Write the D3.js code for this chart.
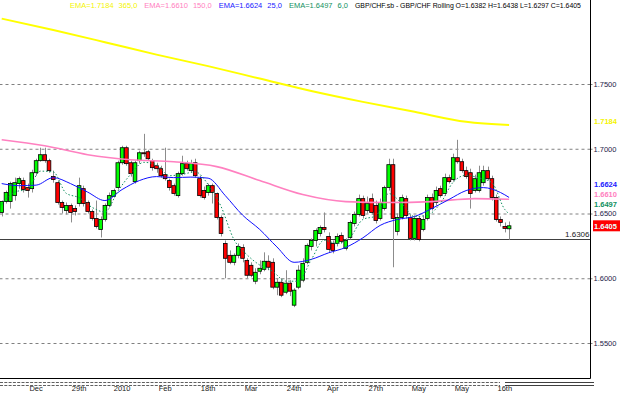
<!DOCTYPE html>
<html>
<head>
<meta charset="utf-8">
<script src="https://cdnjs.cloudflare.com/ajax/libs/d3/7.8.5/d3.min.js"></script>
<style>
  body { margin: 0; background: #fff; }
  svg { display: block; font-family: "Liberation Sans", Arial, sans-serif; }
</style>
</head>
<body>
<svg id="chart" width="625" height="393"></svg>
<script>
// daily GBP/CHF bars
const barOpen = [
  1.6508,1.6592,1.6592,1.6638,1.6731,1.6754,1.6700,1.6692,1.6815,1.6908,
  1.6954,1.6908,1.6785,1.6738,1.6585,1.6523,1.6562,1.6538,1.6577,1.6692,
  1.6585,1.6515,1.6462,1.6377,1.6454,1.6562,1.6631,1.6700,1.6892,1.7008,
  1.6892,1.6746,1.6908,1.6969,1.6977,1.6908,1.6869,1.6846,1.6800,1.6754,
  1.6715,1.6638,1.6808,1.6885,1.6831,1.6892,1.6769,1.6677,1.6662,1.6715,
  1.6654,1.6469,1.6269,1.6177,1.6123,1.6177,1.6238,1.6138,1.6100,1.5977,
  1.6054,1.6069,1.6131,1.6123,1.5931,1.5969,1.5892,1.5962,1.5792,1.5931,
  1.5985,1.6123,1.6246,1.6292,1.6346,1.6392,1.6323,1.6269,1.6269,1.6331,
  1.6231,1.6315,1.6423,1.6492,1.6615,1.6523,1.6615,1.6562,1.6462,1.6538,
  1.6700,1.6877,1.6362,1.6469,1.6615,1.6469,1.6308,1.6462,1.6377,1.6462,
  1.6623,1.6585,1.6692,1.6654,1.6777,1.6762,1.6931,1.6900,1.6831,1.6815,
  1.6677,1.6677,1.6738,1.6831,1.6769,1.6623,1.6454,1.6400,1.6382
];
const barHigh = [
  1.6600,1.6677,1.6746,1.6777,1.6785,1.6777,1.6731,1.6838,1.6923,1.7008,
  1.7008,1.6923,1.6831,1.6754,1.6600,1.6585,1.6577,1.6562,1.6777,1.6715,
  1.6600,1.6531,1.6600,1.6477,1.6577,1.6662,1.6692,1.6908,1.7023,1.7023,
  1.6908,1.6908,1.6985,1.7115,1.6992,1.6923,1.6892,1.6869,1.7008,1.6769,
  1.6731,1.6823,1.6946,1.6908,1.6915,1.6923,1.6792,1.6708,1.6731,1.6731,
  1.6662,1.6485,1.6292,1.6215,1.6192,1.6269,1.6262,1.6154,1.6123,1.6077,
  1.6138,1.6200,1.6177,1.6154,1.6000,1.6000,1.6062,1.5985,1.5923,1.6100,
  1.6154,1.6269,1.6308,1.6385,1.6408,1.6508,1.6354,1.6292,1.6346,1.6354,
  1.6308,1.6446,1.6515,1.6646,1.6638,1.6631,1.6654,1.6600,1.6615,1.6715,
  1.6923,1.6923,1.6500,1.6646,1.6638,1.6492,1.6485,1.6477,1.6485,1.6646,
  1.6654,1.6708,1.6715,1.6808,1.6800,1.6962,1.7069,1.6923,1.6862,1.6846,
  1.6800,1.6869,1.6869,1.6862,1.6792,1.6646,1.6477,1.6431,1.6438
];
const barLow = [
  1.6477,1.6577,1.6538,1.6600,1.6692,1.6662,1.6623,1.6662,1.6792,1.6900,
  1.6892,1.6815,1.6738,1.6569,1.6500,1.6492,1.6431,1.6485,1.6554,1.6554,
  1.6500,1.6446,1.6385,1.6315,1.6438,1.6546,1.6623,1.6685,1.6877,1.6869,
  1.6785,1.6731,1.6885,1.6938,1.6908,1.6831,1.6815,1.6777,1.6754,1.6677,
  1.6638,1.6623,1.6792,1.6831,1.6815,1.6777,1.6623,1.6608,1.6638,1.6577,
  1.6454,1.6323,1.6000,1.6108,1.6100,1.6154,1.6123,1.6000,1.6008,1.5954,
  1.6031,1.6054,1.6062,1.5915,1.5869,1.5854,1.5877,1.5862,1.5777,1.5915,
  1.5969,1.6108,1.6215,1.6246,1.6323,1.6354,1.6200,1.6192,1.6246,1.6269,
  1.6215,1.6300,1.6400,1.6477,1.6462,1.6500,1.6492,1.6423,1.6446,1.6523,
  1.6677,1.6085,1.6331,1.6454,1.6462,1.6292,1.6292,1.6285,1.6362,1.6446,
  1.6523,1.6562,1.6623,1.6638,1.6731,1.6746,1.6885,1.6815,1.6769,1.6538,
  1.6662,1.6662,1.6715,1.6754,1.6600,1.6438,1.6400,1.6354,1.6297
];
const barClose = [
  1.6592,1.6662,1.6731,1.6738,1.6769,1.6685,1.6677,1.6815,1.6908,1.6954,
  1.6908,1.6831,1.6762,1.6585,1.6546,1.6562,1.6508,1.6515,1.6715,1.6577,
  1.6515,1.6462,1.6400,1.6454,1.6562,1.6638,1.6677,1.6892,1.7008,1.6885,
  1.6808,1.6892,1.6969,1.6962,1.6923,1.6854,1.6846,1.6792,1.6769,1.6700,
  1.6654,1.6808,1.6885,1.6846,1.6885,1.6792,1.6638,1.6623,1.6715,1.6662,
  1.6469,1.6346,1.6154,1.6123,1.6177,1.6246,1.6154,1.6023,1.6023,1.6046,
  1.6077,1.6131,1.6085,1.5931,1.5969,1.5869,1.5962,1.5900,1.5908,1.6062,
  1.6115,1.6254,1.6292,1.6369,1.6392,1.6377,1.6223,1.6215,1.6323,1.6285,
  1.6292,1.6431,1.6492,1.6615,1.6485,1.6577,1.6508,1.6446,1.6585,1.6700,
  1.6877,1.6462,1.6469,1.6623,1.6485,1.6308,1.6462,1.6300,1.6454,1.6623,
  1.6538,1.6677,1.6638,1.6777,1.6746,1.6931,1.6900,1.6831,1.6785,1.6654,
  1.6769,1.6815,1.6831,1.6769,1.6623,1.6454,1.6431,1.6385,1.6405
];

// moving averages, sampled at bar indices
const ema365Idx = [0, 12, 24, 36, 48, 60, 72, 84, 96, 108, 118];
const ema365 = [1.8005,1.7917,1.7823,1.7727,1.7638,1.7542,1.7446,1.7362,1.7285,1.7208,1.7184];
const ema150Idx = [0, 10, 20, 30, 40, 50, 60, 70, 80, 90, 100, 110, 118];
const ema150 = [1.7069,1.7023,1.6954,1.6915,1.6900,1.6862,1.6754,1.6646,1.6592,1.6585,1.6592,1.6615,1.6610];
const ema25Idx = [0,4,8,12,16,20,24,28,32,36,40,44,48,52,56,60,64,68,72,76,80,84,88,92,96,100,104,108,112,116,118];
const ema25 = [1.6731,1.6715,1.6719,1.6777,1.6731,1.6665,1.6600,1.6685,1.6754,1.6785,
  1.6777,1.6781,1.6773,1.6638,1.6488,1.6377,1.6242,1.6123,1.6146,1.6196,
  1.6238,1.6312,1.6408,1.6454,1.6477,1.6538,1.6608,1.6677,1.6700,1.6662,1.6624];
const ema6Idx = [0,3,6,9,12,15,18,21,24,27,30,33,36,39,42,45,48,51,54,57,60,63,66,69,72,75,78,81,84,87,90,93,96,99,102,105,108,111,114,117,118];
const ema6 = [1.6570,1.6665,1.6688,1.6827,1.6821,1.6656,1.6622,1.6548,1.6511,1.6672,
  1.6803,1.6895,1.6877,1.6792,1.6802,1.6822,1.6724,1.6555,1.6300,1.6183,
  1.6102,1.6054,1.5978,1.5977,1.6144,1.6294,1.6268,1.6316,1.6454,1.6481,
  1.6654,1.6579,1.6476,1.6488,1.6577,1.6742,1.6795,1.6775,1.6738,1.6531,1.6497];

const gridTicks = [1.55, 1.60, 1.65, 1.70, 1.75];
const supportLevel = 1.6306;
const dateIdx = [8, 18, 28, 38, 48, 58, 68, 77, 87, 97, 107, 117];
const dateLabels = ["Dec", "29th", "2010", "Feb", "18th", "Mar", "24th", "Apr", "27th", "May", "May", "16th"];

const svg = d3.select("#chart");
const plotRight = 590.5, plotBottom = 378.5;
const fmt = d3.format(".4f");

const y = d3.scaleLinear().domain([1.55, 1.75]).range([343, 84]);
const x = d3.scaleBand()
  .domain(d3.range(barClose.length))
  .range([-0.45, 511.25])
  .paddingInner(0.15)
  .paddingOuter(0.075);
const cx = i => x(i) + x.bandwidth() / 2;

svg.append("defs").append("clipPath").attr("id", "plotClip")
  .append("rect").attr("x", 0).attr("y", 0).attr("width", plotRight).attr("height", plotBottom);

// grid + price labels on the right
const yAxis = svg.append("g")
  .attr("transform", "translate(" + plotRight + ",0)")
  .call(d3.axisRight(y).tickValues(gridTicks).tickFormat(fmt).tickSize(-plotRight).tickSizeOuter(0).tickPadding(3));
yAxis.select(".domain").remove();
yAxis.selectAll(".tick line")
  .attr("stroke", "#808080")
  .attr("stroke-dasharray", "3,3");
yAxis.selectAll(".tick text")
  .attr("fill", "#1c1c48")
  .attr("font-size", "7.5px")
  .attr("font-family", null);
yAxis.selectAll(".tick").append("line")
  .attr("x1", 0).attr("x2", 2)
  .attr("stroke", "#808080");

const plot = svg.append("g").attr("clip-path", "url(#plotClip)");

// support line
plot.append("line")
  .attr("x1", 0).attr("x2", plotRight)
  .attr("y1", Math.round(y(supportLevel)) + 0.5).attr("y2", Math.round(y(supportLevel)) + 0.5)
  .attr("stroke", "#404040");
svg.append("text")
  .attr("x", plotRight - 1).attr("y", Math.round(y(supportLevel)) - 2)
  .attr("text-anchor", "end")
  .attr("font-size", "8px")
  .attr("fill", "#202020")
  .text(fmt(supportLevel));

// long averages behind candles
function emaLine(idx, vals) {
  return d3.line()
    .x((d, i) => cx(idx[i]))
    .y(d => y(d))
    .curve(d3.curveMonotoneX)(vals);
}
plot.append("path").attr("d", emaLine(ema365Idx, ema365))
  .attr("fill", "none").attr("stroke", "#ffff00").attr("stroke-width", 2);

// candles
const bars = plot.selectAll("g.bar")
  .data(barClose.map((c, i) => ({ i: i, o: barOpen[i], h: barHigh[i], l: barLow[i], c: c })))
  .enter()
  .append("g")
  .classed("bar", true);

bars.append("line")
  .attr("x1", d => Math.round(cx(d.i)) + 0.5)
  .attr("x2", d => Math.round(cx(d.i)) + 0.5)
  .attr("y1", d => y(d.h))
  .attr("y2", d => y(d.l))
  .attr("stroke", "#8c8c8c");

bars.append("rect")
  .attr("x", d => x(d.i))
  .attr("width", x.bandwidth())
  .attr("y", d => y(Math.max(d.o, d.c)))
  .attr("height", d => Math.max(1, Math.abs(y(d.o) - y(d.c))))
  .attr("fill", d => d.c >= d.o ? "#00ff00" : "#ff0000")
  .attr("stroke", "#000")
  .attr("stroke-width", 0.8);

plot.append("path").attr("d", emaLine(ema150Idx, ema150))
  .attr("fill", "none").attr("stroke", "#ff80c0").attr("stroke-width", 1.6);
plot.append("path").attr("d", emaLine(ema25Idx, ema25))
  .attr("fill", "none").attr("stroke", "#1010ff").attr("stroke-width", 1);
plot.append("path").attr("d", emaLine(ema6Idx, ema6))
  .attr("fill", "none").attr("stroke", "#109060").attr("stroke-width", 1)
  .attr("stroke-dasharray", "1.5,2");

// frame
svg.append("line").attr("x1", plotRight).attr("x2", plotRight).attr("y1", 0).attr("y2", plotBottom)
  .attr("stroke", "#000");
svg.append("line").attr("x1", 0).attr("x2", plotRight).attr("y1", plotBottom).attr("y2", plotBottom)
  .attr("stroke", "#000");

// scroller strip under the plot
[382.5, 385.5].forEach(function (yy) {
  svg.append("line").attr("x1", 0).attr("x2", 500).attr("y1", yy).attr("y2", yy)
    .attr("stroke", "#606060").attr("stroke-dasharray", "3,1.3");
  svg.append("line").attr("x1", 505).attr("x2", 594).attr("y1", yy).attr("y2", yy)
    .attr("stroke", "#404040");
});

// date labels
const xAxis = svg.append("g")
  .attr("transform", "translate(0,384)")
  .call(d3.axisBottom(x).tickValues(dateIdx).tickFormat((d, i) => dateLabels[i]).tickSize(0).tickPadding(2));
xAxis.select(".domain").remove();
xAxis.selectAll("text")
  .attr("font-size", "7.5px")
  .attr("font-family", null)
  .attr("fill", "#202020");

// legend line on top
const emaInfo = [
  { vals: ema365, period: "365,0", color: "#f4f400" },
  { vals: ema150, period: "150,0", color: "#ff80c0" },
  { vals: ema25, period: "25,0", color: "#2020ff" },
  { vals: ema6, period: "6,0", color: "#109060" }
];
let hx = 70;
emaInfo.forEach(function (e) {
  const t1 = svg.append("text").attr("x", hx).attr("y", 8).attr("font-size", "7.5px").attr("fill", e.color)
    .text("EMA=" + fmt(e.vals[e.vals.length - 1]));
  hx += t1.node().getComputedTextLength() + 5;
  const t2 = svg.append("text").attr("x", hx).attr("y", 8).attr("font-size", "7.5px").attr("fill", e.color)
    .text(e.period);
  hx += t2.node().getComputedTextLength() + 7;
});
const last = barClose.length - 1;
svg.append("text").attr("x", hx).attr("y", 8).attr("font-size", "6.9px").attr("fill", "#000")
  .text("GBP/CHF.sb - GBP/CHF Rolling O=" + fmt(barOpen[last]) + " H=" + fmt(barHigh[last]) +
        " L=" + fmt(barLow[last]) + " C=" + fmt(barClose[last]));

// last-value tags on the right
const lastY = y(barClose[last]);
svg.append("rect").attr("x", 593).attr("y", lastY - 5.5).attr("width", 27).attr("height", 11)
  .attr("fill", "#ff0000");
svg.append("text").attr("x", 594).attr("y", lastY + 3)
  .attr("font-size", "7.5px").attr("font-weight", "bold").attr("fill", "#e8ffff")
  .text(fmt(barClose[last]));

const tags = emaInfo.map(e => ({ v: e.vals[e.vals.length - 1], color: e.color, pos: y(e.vals[e.vals.length - 1]) - 4 }))
  .sort((a, b) => b.pos - a.pos);
let limit = lastY - 22;
tags.forEach(function (t) {
  t.pos = Math.min(t.pos, limit);
  limit = t.pos - 10;
});
svg.selectAll("text.tag").data(tags).enter().append("text")
  .classed("tag", true)
  .attr("x", 594).attr("y", d => d.pos + 3)
  .attr("font-size", "7.5px").attr("font-weight", "bold")
  .attr("fill", d => d.color)
  .text(d => fmt(d.v));
</script>
</body>
</html>
